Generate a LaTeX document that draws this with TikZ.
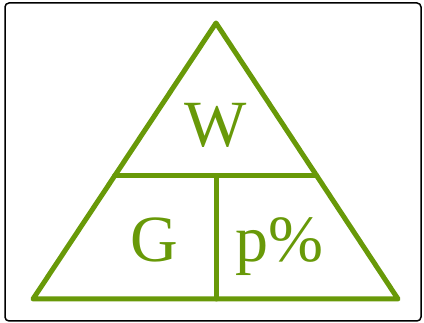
\documentclass[tikz,border=0pt]{standalone}
\usepackage{fontspec}
\setmainfont{Liberation Serif}
\usetikzlibrary{calc}
\definecolor{tgreen}{RGB}{104,153,8}
\begin{document}
\begin{tikzpicture}[x=1pt,y=-1pt,
  tri/.style={draw=tgreen,line width=5pt,line join=round,line cap=round},
  lbl/.style={text=tgreen,font=\fontsize{66}{66}\selectfont,anchor=base,inner sep=0pt}]
\useasboundingbox (0,0) rectangle (424,323);
\draw[black,line width=1.5pt,rounded corners=4pt] (5,3) rectangle (421,321);
\coordinate (A) at (216,23);
\coordinate (B) at (33,299);
\coordinate (C) at (398,299);
\coordinate (L) at ($(A)!0.554!(B)$);
\coordinate (R) at ($(A)!0.554!(C)$);
\coordinate (M) at (216,176);
\coordinate (N) at (216,299);
\draw[tri] (A) -- (B) -- (C) -- cycle;
\draw[tri] (L) -- (R);
\draw[tri] (M) -- (N);
\node[lbl] (w) at (216,147) {W};
\node[lbl] (g) at (154,262) {G};
\node[lbl] (p) at (279,262) {p\%};
\end{tikzpicture}
\end{document}
